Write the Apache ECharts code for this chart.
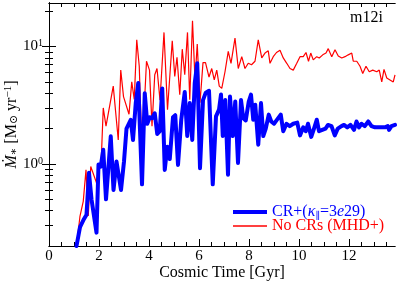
<!DOCTYPE html>
<html>
<head>
<meta charset="utf-8">
<script src="https://cdn.jsdelivr.net/npm/echarts@6/dist/echarts.min.js"></script>
<style>html,body{margin:0;padding:0;background:#fff;}#c{width:399px;height:287px;}</style>
</head>
<body>
<div id="c"></div>
<script>
// Cosmic time [Gyr] and star formation rate [Msun/yr]
var redTime = [1.1,1.24,1.37,1.48,1.57,1.67,1.9,1.99,2.08,2.17,2.28,2.36,2.57,2.77,2.87,2.98,3.06,3.2,3.31,3.41,3.51,3.61,3.72,3.9,4.02,4.12,4.23,4.32,4.44,4.6,4.74,4.93,5.03,5.12,5.23,5.33,5.43,5.54,5.63,5.74,5.84,5.93,6.04,6.16,6.26,6.4,6.51,6.61,6.71,6.81,6.91,7.04,7.17,7.28,7.44,7.57,7.71,7.84,7.97,8.1,8.24,8.37,8.51,8.64,8.77,8.84,8.97,9.1,9.24,9.37,9.51,9.64,9.77,9.91,10.04,10.17,10.28,10.38,10.47,10.57,10.71,10.81,10.95,11.08,11.17,11.31,11.44,11.57,11.71,11.84,11.97,12.11,12.17,12.31,12.44,12.55,12.68,12.81,12.95,13.11,13.21,13.31,13.4,13.51,13.64,13.77,13.84];
var redSfr = [0.2,0.36,0.48,0.89,0.36,0.95,0.69,0.95,0.95,3.0,2.1,2.05,4.6,1.6,6.3,3.75,3.7,2.65,5.0,3.55,11.4,6.8,1.25,7.5,6.3,2.1,5.75,6.5,3.5,13.2,2.9,11.2,5.56,8.1,3.88,9.5,5.75,13.2,3.52,16.6,5.2,10.5,3.32,7.3,7.3,5.5,6.5,5.2,6.3,4.6,4.4,6.1,9.1,7.2,11.8,6.5,8.2,6.5,7.2,7.0,7.5,11.4,8.0,8.8,9.2,7.2,8.2,8.9,9.3,8.0,7.2,6.5,6.3,7.2,8.2,8.2,8.9,7.5,8.8,7.7,8.2,8.0,8.5,8.8,9.6,8.2,9.4,8.3,8.0,8.2,8.5,8.8,7.5,7.5,6.8,5.9,6.8,6.1,6.3,6.1,6.3,5.0,6.4,5.4,5.2,5.0,5.75];
var blueTime = [1.1,1.24,1.4,1.5,1.6,1.7,1.9,1.98,2.07,2.17,2.28,2.47,2.58,2.7,2.88,3.0,3.1,3.17,3.27,3.36,3.47,3.57,3.72,3.83,3.93,4.03,4.12,4.23,4.33,4.43,4.53,4.63,4.73,4.83,4.96,5.05,5.16,5.29,5.43,5.53,5.63,5.73,5.83,5.93,6.04,6.16,6.27,6.4,6.55,6.68,6.8,6.88,6.95,7.05,7.16,7.24,7.35,7.45,7.56,7.68,7.77,7.87,7.99,8.08,8.17,8.25,8.37,8.48,8.57,8.67,8.79,8.89,9.0,9.1,9.27,9.37,9.5,9.63,9.77,9.93,10.04,10.17,10.27,10.36,10.49,10.6,10.71,10.8,10.93,11.06,11.16,11.3,11.43,11.55,11.7,11.8,11.93,12.06,12.2,12.3,12.4,12.5,12.63,12.77,12.9,13.04,13.17,13.3,13.44,13.55,13.6,13.7,13.84];
var blueSfr = [0.2,0.29,0.34,0.37,0.84,0.5,0.26,0.99,0.95,1.32,0.5,1.72,0.6,1.05,0.6,1.05,2.0,1.95,2.38,1.6,3.3,4.9,0.67,4.0,2.2,2.5,2.45,2.7,1.8,1.9,4.4,0.89,1.4,1.1,2.5,2.6,0.98,2.38,4.1,1.73,3.3,1.6,4.9,7.2,0.92,3.5,4.05,4.2,0.67,2.54,2.9,3.9,1.73,3.5,0.81,3.75,1.73,3.4,1.02,3.5,2.45,2.35,3.4,3.9,2.38,3.2,1.46,3.3,1.73,2.0,2.63,2.3,2.2,2.35,2.63,1.9,2.2,2.1,2.2,2.25,1.75,2.05,1.9,2.2,1.7,2.0,2.38,1.9,1.95,2.0,2.15,2.1,1.75,2.0,2.1,2.15,2.05,2.15,1.95,2.3,2.05,2.2,2.1,2.3,2.1,2.05,2.05,2.05,2.05,2.1,1.95,2.1,2.15];
var xMajorTicks = [0,2,4,6,8,10,12];
var xMinorTicks = [0.5,1,1.5,2.5,3,3.5,4.5,5,5.5,6.5,7,7.5,8.5,9,9.5,10.5,11,11.5,12.5,13,13.5];
var yMajorTicks = [1,10];
var yMinorTicks = [0.3,0.4,0.5,0.6,0.7,0.8,0.9,2,3,4,5,6,7,8,9,20];
var seriesNames = ['CR+(κ∥=3e29)', 'No CRs (MHD+)'];

var FONT = '"Liberation Serif", "DejaVu Serif", serif';
var X_MIN = 0, X_MAX = 13.84, Y_MIN = 0.2, Y_MAX = 23.5;

function pairs(xs, ys){ return xs.map(function(x,i){ return [x, ys[i]]; }); }

function xAx(pos, major, withLabels){
  return {
    type:'value', position:pos, min:X_MIN, max:X_MAX,
    axisLine:{show:true, lineStyle:{color:'#000', width:1}},
    axisTick:{show:true, inside:true, length: major?7:4, lineStyle:{color:'#000', width:1}, customValues: major?xMajorTicks:xMinorTicks},
    axisLabel:{show:withLabels, customValues:xMajorTicks, margin:3, color:'#000', fontSize:15, fontFamily:FONT},
    splitLine:{show:false},
    name: withLabels ? 'Cosmic Time [Gyr]' : '',
    nameLocation:'middle', nameGap:19, nameMoveOverlap:false,
    nameTextStyle:{color:'#000', fontSize:16, fontFamily:FONT}
  };
}
function yAx(pos, major, withLabels){
  return {
    type:'log', logBase:10, position:pos, min:Y_MIN, max:Y_MAX,
    axisLine:{show:true, lineStyle:{color:'#000', width:1}},
    axisTick:{show:true, inside:true, length: major?7:4, lineStyle:{color:'#000', width:1}, customValues: major?yMajorTicks:yMinorTicks},
    axisLabel:{show:withLabels, customValues:yMajorTicks, margin:6, color:'#000', fontSize:15, fontFamily:FONT,
      formatter:function(v){ return '10{sup|' + Math.round(Math.log10(v)) + '}'; },
      rich:{sup:{fontSize:10, fontFamily:FONT, color:'#000', verticalAlign:'top', lineHeight:16}}},
    splitLine:{show:false}, minorTick:{show:false},
    name: withLabels ? '{i|Ṁ}{sub|∗} [M{sub|⊙} yr{sup|−1}]' : '',
    nameLocation:'middle', nameGap:29, nameRotate:90, nameMoveOverlap:false,
    nameTextStyle:{color:'#000', fontSize:16, fontFamily:FONT, lineHeight:17,
      rich:{
        i:{fontStyle:'italic', fontSize:16, fontFamily:FONT, color:'#000', lineHeight:17},
        sub:{fontSize:11, fontFamily:FONT, color:'#000', verticalAlign:'bottom', lineHeight:17},
        sup:{fontSize:11, fontFamily:FONT, color:'#000', verticalAlign:'top', lineHeight:17}
      }}
  };
}

var chart = echarts.init(document.getElementById('c'), null, {renderer:'canvas'});
chart.setOption({
  animation:false,
  backgroundColor:'#fff',
  grid:{left:49, right:4, top:3, bottom:41, containLabel:false, outerBoundsMode:'none'},
  title:{text:'m12i', right:16, top:10, padding:0, textStyle:{color:'#000', fontSize:16, fontWeight:'normal', fontFamily:FONT}},
  xAxis:[xAx('bottom',true,true), xAx('bottom',false,false), xAx('top',true,false), xAx('top',false,false)],
  yAxis:[yAx('left',true,true), yAx('left',false,false), yAx('right',true,false), yAx('right',false,false)],
  legend:[
    {data:[seriesNames[0]], left:233, top:203, padding:0, icon:'rect', itemWidth:34, itemHeight:4, selectedMode:false,
     formatter:function(){ return 'CR+({k|κ}{s|∥}=3{e|e}29)'; },
     textStyle:{color:'#0000ff', fontSize:16, fontFamily:FONT, lineHeight:18,
       rich:{k:{fontStyle:'italic', color:'#0000ff', fontSize:16, fontFamily:FONT},
             s:{fontSize:10, color:'#0000ff', fontFamily:FONT, verticalAlign:'bottom', lineHeight:18},
             e:{fontStyle:'italic', color:'#0000ff', fontSize:16, fontFamily:FONT}}}},
    {data:[seriesNames[1]], left:233, top:218, padding:0, icon:'rect', itemWidth:34, itemHeight:1.5, selectedMode:false,
     textStyle:{color:'#ff0000', fontSize:16, fontFamily:FONT}}
  ],
  series:[
    {name:seriesNames[1], type:'line', data:pairs(redTime, redSfr), showSymbol:false, symbol:'none',
     color:'#ff0000', lineStyle:{color:'#ff0000', width:1.2}, itemStyle:{color:'#ff0000'}, z:2, clip:true},
    {name:seriesNames[0], type:'line', data:pairs(blueTime, blueSfr), showSymbol:false, symbol:'none',
     color:'#0000ff', lineStyle:{color:'#0000ff', width:4, join:'round', cap:'round'}, itemStyle:{color:'#0000ff'}, z:3, clip:true}
  ]
});
</script>
</body>
</html>
